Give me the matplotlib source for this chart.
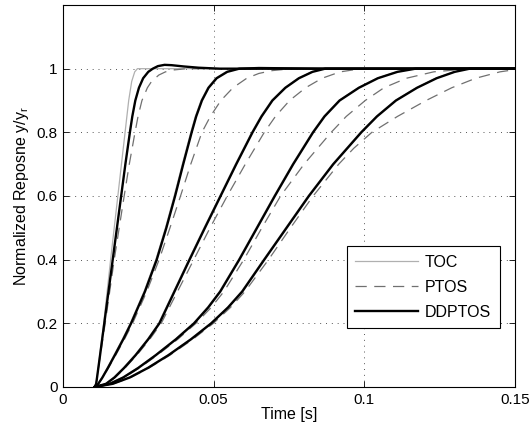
import matplotlib
matplotlib.use("Agg")
import matplotlib.pyplot as plt
from matplotlib.lines import Line2D

plt.rcParams['font.family'] = ['Liberation Sans', 'DejaVu Sans']
plt.rcParams['mathtext.fontset'] = 'custom'
plt.rcParams['mathtext.rm'] = 'Liberation Sans'
plt.rcParams['mathtext.it'] = 'Liberation Sans:italic'

# ---------------- data ----------------
# common normalized output levels used for curves 2..5
lv = [0.0, 0.01, 0.03, 0.06, 0.10, 0.15, 0.20, 0.25, 0.30, 0.40, 0.50, 0.60, 0.70, 0.80, 0.85, 0.90, 0.94, 0.97, 0.99, 1.0, 1.0]

# DDPTOS responses (time [s], normalized output)
dd1_t = [0.0105, 0.0110, 0.0113, 0.0123, 0.0137, 0.0165, 0.0193, 0.0207, 0.0222, 0.0230, 0.0240, 0.0252, 0.0266, 0.0283, 0.0298, 0.0315, 0.0337, 0.0360, 0.0400, 0.0450, 0.0520, 0.150]
dd1_y = [0.0, 0.01, 0.03, 0.10, 0.20, 0.40, 0.60, 0.70, 0.80, 0.85, 0.90, 0.94, 0.97, 0.99, 1.0, 1.008, 1.012, 1.011, 1.007, 1.003, 1.0, 1.0]
dd2_t = [0.0105, 0.0117, 0.0131, 0.0149, 0.0172, 0.0200, 0.0226, 0.0272, 0.0311, 0.0343, 0.0372, 0.0399, 0.0427, 0.0442, 0.0461, 0.0483, 0.0510, 0.0545, 0.0585, 0.0650, 0.0750, 0.0850, 0.150]
dd2_y = [0.0, 0.01, 0.03, 0.06, 0.10, 0.15, 0.20, 0.30, 0.40, 0.50, 0.60, 0.70, 0.80, 0.85, 0.90, 0.94, 0.97, 0.99, 1.0, 1.002, 1.001, 1.0, 1.0]
dd3_t = [0.0105, 0.0143, 0.0171, 0.0203, 0.0241, 0.0283, 0.0320, 0.0345, 0.0370, 0.0420, 0.0471, 0.0523, 0.0575, 0.0629, 0.0659, 0.0695, 0.0738, 0.0783, 0.0828, 0.0870, 0.150]
dd4_t = [0.0105, 0.0155, 0.0200, 0.0250, 0.0308, 0.0375, 0.0435, 0.0482, 0.0522, 0.0585, 0.0644, 0.0703, 0.0764, 0.0830, 0.0868, 0.0918, 0.0982, 0.1045, 0.1110, 0.1170, 0.150]
dd5_t = [0.0105, 0.0165, 0.0222, 0.0282, 0.0350, 0.0425, 0.0492, 0.0548, 0.0595, 0.0668, 0.0742, 0.0816, 0.0897, 0.0990, 0.1042, 0.1105, 0.1175, 0.1240, 0.1300, 0.1350, 0.150]

# TOC responses
toc1_t = [0.0105, 0.0110, 0.0113, 0.0122, 0.0135, 0.0158, 0.0182, 0.0194, 0.0206, 0.0218, 0.0228, 0.0238, 0.0247, 0.150]
toc1_y = [0.0, 0.01, 0.03, 0.10, 0.20, 0.40, 0.60, 0.70, 0.80, 0.90, 0.96, 0.99, 1.0, 1.0]
toc2_t = [0.0105, 0.0116, 0.0129, 0.0147, 0.0169, 0.0197, 0.0223, 0.0269, 0.0308, 0.0340, 0.0369, 0.0396, 0.0424, 0.0439, 0.0458, 0.0480, 0.0506, 0.0540, 0.0578, 0.150]
toc2_y = [0.0, 0.01, 0.03, 0.06, 0.10, 0.15, 0.20, 0.30, 0.40, 0.50, 0.60, 0.70, 0.80, 0.85, 0.90, 0.94, 0.97, 0.99, 1.0, 1.0]
toc3_t = [0.0105, 0.0140, 0.0168, 0.0200, 0.0238, 0.0280, 0.0317, 0.0342, 0.0367, 0.0417, 0.0468, 0.0520, 0.0572, 0.0626, 0.0656, 0.0692, 0.0735, 0.0780, 0.0824, 0.0865, 0.150]
toc4_t = [0.0105, 0.0152, 0.0197, 0.0247, 0.0305, 0.0372, 0.0432, 0.0479, 0.0519, 0.0582, 0.0641, 0.0700, 0.0761, 0.0827, 0.0865, 0.0915, 0.0979, 0.1042, 0.1107, 0.1165, 0.150]
toc5_t = [0.0105, 0.0162, 0.0219, 0.0279, 0.0347, 0.0422, 0.0489, 0.0545, 0.0592, 0.0665, 0.0739, 0.0813, 0.0894, 0.0987, 0.1039, 0.1102, 0.1172, 0.1237, 0.1297, 0.1345, 0.150]

# PTOS responses
ptos1_t = [0.0105, 0.0110, 0.0113, 0.0124, 0.0140, 0.0170, 0.0203, 0.0220, 0.0239, 0.0249, 0.0262, 0.0280, 0.0294, 0.0318, 0.0340, 0.0368, 0.0410, 0.150]
ptos1_y = [0.0, 0.01, 0.03, 0.10, 0.20, 0.40, 0.60, 0.70, 0.80, 0.85, 0.90, 0.94, 0.96, 0.98, 0.99, 0.996, 1.0, 1.0]
ptos2_t = [0.0105, 0.0117, 0.0132, 0.0151, 0.0175, 0.0204, 0.0231, 0.0278, 0.0319, 0.0355, 0.0390, 0.0424, 0.0461, 0.0489, 0.0524, 0.0564, 0.0610, 0.0650, 0.0695, 0.0760, 0.150]
ptos2_y = [0.0, 0.01, 0.03, 0.06, 0.10, 0.15, 0.20, 0.30, 0.40, 0.50, 0.60, 0.70, 0.80, 0.85, 0.90, 0.94, 0.97, 0.985, 0.994, 1.0, 1.0]
ptos3_t = [0.0105, 0.0144, 0.0173, 0.0206, 0.0245, 0.0288, 0.0326, 0.0353, 0.0380, 0.0434, 0.0488, 0.0545, 0.0605, 0.0668, 0.0705, 0.0752, 0.0805, 0.0860, 0.0920, 0.0990, 0.150]
ptos4_t = [0.0105, 0.0157, 0.0203, 0.0254, 0.0313, 0.0381, 0.0441, 0.0492, 0.0534, 0.0600, 0.0660, 0.0722, 0.0800, 0.0890, 0.0940, 0.1003, 0.1065, 0.1140, 0.1230, 0.1350, 0.150]
ptos5_t = [0.0105, 0.0167, 0.0225, 0.0286, 0.0355, 0.0431, 0.0499, 0.0556, 0.0604, 0.0682, 0.0755, 0.0830, 0.0915, 0.0965, 0.1025, 0.1110, 0.1205, 0.1290, 0.1370, 0.1450, 0.150]
ptos5_y = [0.0, 0.01, 0.03, 0.06, 0.10, 0.15, 0.20, 0.25, 0.30, 0.40, 0.50, 0.60, 0.70, 0.75, 0.80, 0.85, 0.90, 0.94, 0.97, 0.99, 0.997]

legend_labels = ['TOC', 'PTOS', 'DDPTOS']
x_ticks = [0, 0.05, 0.1, 0.15]
x_tick_labels = ['0', '0.05', '0.1', '0.15']
y_ticks = [0, 0.2, 0.4, 0.6, 0.8, 1.0]
y_tick_labels = ['0', '0.2', '0.4', '0.6', '0.8', '1']

# ---------------- plot ----------------
fig = plt.figure(figsize=(5.32, 4.28), dpi=100)
ax = fig.add_axes([63/532, 1-387/428, (515-63)/532, (387-5)/428])

toc_style = dict(color='#b0b0b0', lw=0.9, zorder=2)
ptos_style = dict(color='#707070', lw=0.9, linestyle=(0, (9, 6)), zorder=3)
dd_style = dict(color='black', lw=1.7, zorder=4)

toc_curves = [(toc1_t, toc1_y), (toc2_t, toc2_y), (toc3_t, lv), (toc4_t, lv), (toc5_t, lv)]
ptos_curves = [(ptos1_t, ptos1_y), (ptos2_t, ptos2_y), (ptos3_t, lv), (ptos4_t, lv), (ptos5_t, ptos5_y)]
dd_curves = [(dd1_t, dd1_y), (dd2_t, dd2_y), (dd3_t, lv), (dd4_t, lv), (dd5_t, lv)]

for t, y in toc_curves:
    ax.plot(t, y, solid_joinstyle='round', **toc_style)
for t, y in ptos_curves:
    ax.plot(t, y, **ptos_style)
for t, y in dd_curves:
    ax.plot(t, y, solid_joinstyle='round', **dd_style)

ax.set_xlim(0, 0.15)
ax.set_ylim(0, 1.2)
ax.set_xticks(x_ticks)
ax.set_xticklabels(x_tick_labels)
ax.set_yticks(y_ticks)
ax.set_yticklabels(y_tick_labels)
ax.tick_params(direction='in', length=4, width=0.6, top=True, right=True,
               labelsize=11, pad=4)
ax.grid(True, linestyle=(0, (1, 5)), color='#555555', lw=0.7)
for s in ax.spines.values():
    s.set_linewidth(0.8)

ax.set_xlabel('Time [s]', fontsize=11.5, labelpad=0.5)
ax.set_ylabel(r'Normalized Reposne y/y$_\mathrm{r}$', fontsize=11.5, labelpad=4)

handles = [Line2D([], [], **toc_style), Line2D([], [], **ptos_style), Line2D([], [], **dd_style)]
leg = ax.legend(handles, legend_labels, loc='upper right',
                bbox_to_anchor=((500-63)/452, (387-246)/382),
                fontsize=11.5, handlelength=3.9, handletextpad=0.45,
                labelspacing=0.62, borderpad=0.55, borderaxespad=0.0,
                fancybox=False, framealpha=1, edgecolor='black')
leg.get_frame().set_linewidth(0.8)

fig.savefig('out.png', dpi=100)
